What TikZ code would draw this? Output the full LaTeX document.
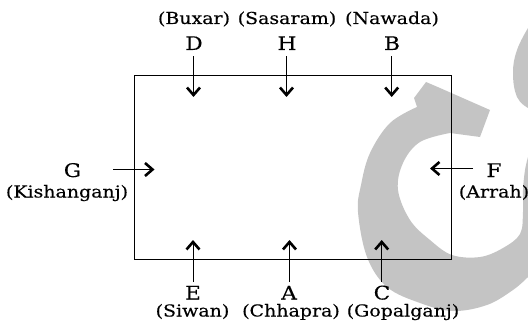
\documentclass[tikz,border=0pt]{standalone}
\usepackage{fontspec}
\setmainfont{DejaVu Serif}[FakeStretch=1.15,FakeBold=0.3]
\usetikzlibrary{arrows.meta}
\definecolor{wm}{gray}{0.77}
\tikzset{
  flow/.style={line width=0.9pt, -{Straight Barb[length=7.5pt,width=13pt,line width=2.6pt]}},
  city/.style={inner sep=0pt, anchor=base, font=\fontsize{16.5}{18}\selectfont},
  letter/.style={inner sep=0pt, anchor=base, font=\fontsize{18.8}{20}\selectfont},
  frame/.style={line width=0.9pt}
}
\begin{document}
\begin{tikzpicture}[x=1pt,y=-1pt]
\useasboundingbox (0,0) rectangle (528,321);
% watermark
\fill[wm] (426,82) -- (440,88) -- (490,110) -- (480,137) -- (450,133)
  -- plot[smooth,tension=0.6] coordinates {(450,133) (420,142) (403,163) (398,190) (410,220) (430,240) (452,255) (480,257) (503,248) (520,234) (523,212) (523,190) (525,170) (528,157)}
  -- (528,277)
  -- plot[smooth,tension=0.6] coordinates {(528,277) (513,290) (487,305) (453,311) (420,303) (387,287) (367,257) (358,212) (361,185) (370,153) (390,123) (417,107)}
  -- (414,98) -- cycle;
\fill[wm] (528,28) -- plot[smooth,tension=0.7] coordinates {(528,28) (517,50) (513,73) (517,97) (528,108)} -- cycle;
% frame
\draw[frame] (134.5,75.5) rectangle (451.7,259.5);
% top
\node[city] (buxar) at (194,24) {(Buxar)};
\node[city] (sasaram) at (287,24) {(Sasaram)};
\node[city] (nawada) at (392,24) {(Nawada)};
\node[letter] (D) at (194,50) {D};
\node[letter] (H) at (287,50) {H};
\node[letter] (B) at (392,50) {B};
\coordinate (d1) at (193.5,56.5); \coordinate (d2) at (193.5,97);
\coordinate (h1) at (286.5,56.5); \coordinate (h2) at (286.5,97);
\coordinate (b1) at (391.7,56.5); \coordinate (b2) at (391.7,97);
\draw[flow] (d1) -- (d2);
\draw[flow] (h1) -- (h2);
\draw[flow] (b1) -- (b2);
% left
\node[letter] (G) at (72.5,177) {G};
\node[city] (kishanganj) at (67,197.5) {(Kishanganj)};
\coordinate (g1) at (113,169.5); \coordinate (g2) at (154.5,169.5);
\draw[flow] (g1) -- (g2);
% right
\node[letter] (F) at (494,177) {F};
\node[city] (arrah) at (494,197.5) {(Arrah)};
\coordinate (f1) at (473,168.5); \coordinate (f2) at (430,168.5);
\draw[flow] (f1) -- (f2);
% bottom
\node[letter] (E) at (193,299.5) {E};
\node[letter] (A) at (289,299.5) {A};
\node[letter] (C) at (382,299.5) {C};
\node[city] (siwan) at (192.5,316.5) {(Siwan)};
\node[city] (chhapra) at (291,316.5) {(Chhapra)};
\node[city] (gopalganj) at (403,316.5) {(Gopalganj)};
\coordinate (e1) at (193,282); \coordinate (e2) at (193,240);
\coordinate (a1) at (289.5,282); \coordinate (a2) at (289.5,240);
\coordinate (c1) at (381.7,282); \coordinate (c2) at (381.7,240);
\draw[flow] (e1) -- (e2);
\draw[flow] (a1) -- (a2);
\draw[flow] (c1) -- (c2);
\end{tikzpicture}
\end{document}
